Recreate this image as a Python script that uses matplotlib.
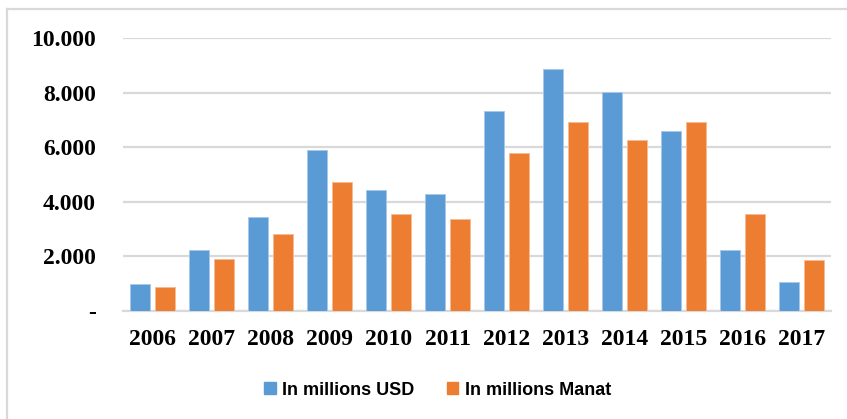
import numpy as np
import matplotlib.pyplot as plt
from matplotlib.lines import Line2D
from matplotlib.patches import Patch

years = ["2006", "2007", "2008", "2009", "2010", "2011",
         "2012", "2013", "2014", "2015", "2016", "2017"]
usd = [980, 2240, 3450, 5890, 4440, 4280, 7320, 8875, 8030, 6600, 2240, 1050]
manat = [870, 1920, 2820, 4720, 3545, 3370, 5780, 6920, 6260, 6940, 3560, 1870]
yticks = [0, 2000, 4000, 6000, 8000, 10000]
ytick_labels = ["-", "2.000", "4.000", "6.000", "8.000", "10.000"]

blue = "#5B9BD5"
orange = "#ED7D31"
grid = "#D9D9D9"

W, H = 847, 419
fig = plt.figure(figsize=(W / 100, H / 100), dpi=100)
ax = fig.add_axes([123 / W, 1 - 311 / H, (831 - 123) / W, (311 - 38.3) / H])

x = np.arange(len(years))
bw = 0.33
ax.bar(x - 0.21, usd, bw, color=blue, edgecolor="#A7C8EA", linewidth=0.7, zorder=3)
ax.bar(x + 0.21, manat, bw, color=orange, edgecolor="#F6BC94", linewidth=0.7, zorder=3)

ax.set_xlim(-0.5, len(years) - 0.5)
ax.set_ylim(0, 10000)
ax.set_yticks(yticks)
ax.set_yticklabels(ytick_labels)
ax.set_xticks(x)
ax.set_xticklabels(years)
ax.yaxis.grid(True, color=grid, linewidth=1.6, zorder=0)
ax.set_axisbelow(True)
ax.tick_params(length=0)
ax.tick_params(axis="y", pad=19.5)
ax.tick_params(axis="x", pad=13)
for lab in ax.get_xticklabels() + ax.get_yticklabels():
    lab.set_fontfamily("Liberation Serif")
    lab.set_fontweight("bold")
    lab.set_fontsize(17)
for s in ["top", "right", "left"]:
    ax.spines[s].set_visible(False)
ax.spines["bottom"].set_color(grid)
ax.spines["bottom"].set_linewidth(1.6)

# chart frame (left and top edges)
fig.add_artist(Line2D([7 / W, 7 / W], [0, 1 - 9 / H], color=grid, linewidth=1.6))
fig.add_artist(Line2D([7 / W, 1], [1 - 9 / H, 1 - 9 / H], color=grid, linewidth=1.6))

handles = [Patch(color=blue, label="In millions USD"),
           Patch(color=orange, label="In millions Manat")]
fig.legend(handles=handles, loc="center", bbox_to_anchor=(437.5 / W, 1 - 390 / H),
           ncol=2, frameon=False, handlelength=0.65, handleheight=0.65,
           handletextpad=0.35, columnspacing=1.8,
           prop={"family": "Liberation Sans", "weight": "bold", "size": 13})

fig.savefig("out.png", dpi=100)
